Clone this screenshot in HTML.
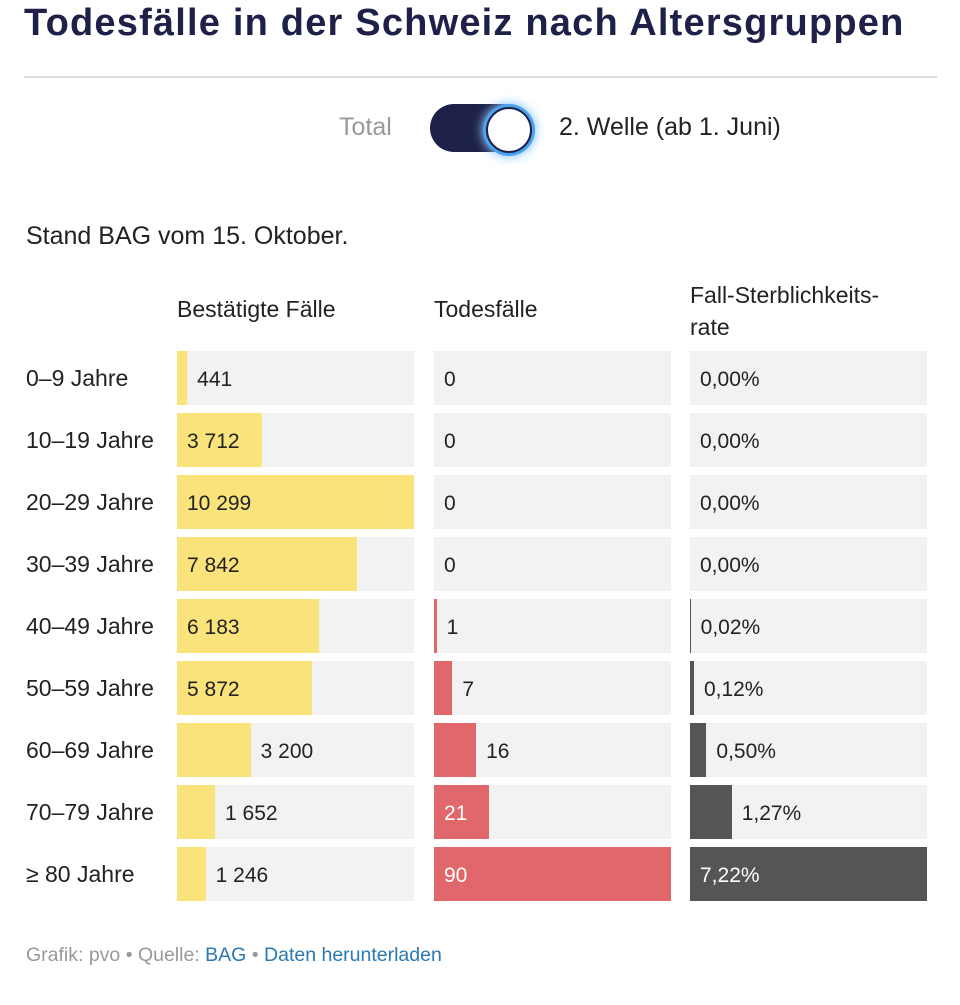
<!DOCTYPE html>
<html><head><meta charset="utf-8">
<style>
body{margin:0;background:#fff;width:960px;height:1005px;overflow:hidden;font-family:"Liberation Sans",sans-serif;color:#222;position:relative}
.abs{position:absolute}
#title{left:24px;top:2px;font-size:38px;font-weight:bold;color:#1e2147;white-space:nowrap;letter-spacing:1.2px}
#rule{left:24px;top:76px;width:913px;height:2px;background:#ddd}
.lbl{font-size:22px;white-space:nowrap}
.cell{position:absolute;height:54px;background:#f2f2f2}
.bar{position:absolute;left:0;top:0;height:54px}
.val{position:absolute;top:2px;line-height:54px;font-size:21px;white-space:nowrap}
</style></head><body>
<div class="abs" id="title">Todesfälle in der Schweiz nach Altersgruppen</div>
<div class="abs" id="rule"></div>
<div class="abs lbl" style="left:339px;top:113px;font-size:25px;color:#999">Total</div>
<div class="abs" style="left:430px;top:104px;width:96px;height:48px;border-radius:24px;background:#1e2147"></div>
<div class="abs" style="left:486px;top:107px;width:42px;height:42px;border-radius:50%;background:#fff;border:2px solid #1e2147;box-shadow:0 0 0 3px #4aa3ef,0 0 10px 4px #8cc8ff"></div>
<div class="abs lbl" style="left:559px;top:113px;font-size:25px;color:#222">2. Welle (ab 1. Juni)</div>
<div class="abs lbl" style="left:26px;top:222px;font-size:25px">Stand BAG vom 15. Oktober.</div>
<div class="abs lbl" style="left:177px;top:296px;font-size:23px">Bestätigte Fälle</div>
<div class="abs lbl" style="left:434px;top:296px;font-size:23px">Todesfälle</div>
<div class="abs lbl" style="left:690px;top:279px;line-height:32px;font-size:23px">Fall-Sterblichkeits-<br>rate</div>
<div id="rows"></div>
<div class="abs" style="left:26px;top:944px;font-size:19.5px;color:#999">Grafik: pvo • Quelle: <span style="color:#2a78b3">BAG</span> • <span style="color:#2a78b3">Daten herunterladen</span></div>
<script>
const categories=["0–9 Jahre","10–19 Jahre","20–29 Jahre","30–39 Jahre","40–49 Jahre","50–59 Jahre","60–69 Jahre","70–79 Jahre","≥ 80 Jahre"];
const cases=[441,3712,10299,7842,6183,5872,3200,1652,1246];
const deaths=[0,0,0,0,1,7,16,21,90];
const rates=[0.00,0.00,0.00,0.00,0.02,0.12,0.50,1.27,7.22];
const root=document.getElementById('rows');
const cols=[{x:177,data:cases,color:'#f9e37a',txt:'#222',fmt:v=>String(v).replace(/\B(?=(\d{3})+(?!\d))/g,' '),name:'cases'},
{x:434,data:deaths,color:'#e0686b',txt:'#fff',fmt:v=>String(v),name:'deaths'},
{x:690,data:rates,color:'#555',txt:'#fff',fmt:v=>v.toFixed(2).replace('.',',')+'%',name:'rate'}];
const W=237;
categories.forEach((c,i)=>{
 const y=351+i*62;
 const l=document.createElement('div');l.className='abs lbl';l.style.left='26px';l.style.top=(y+14)+'px';l.style.fontSize='23px';l.textContent=c;
 
 
 root.appendChild(l);
 cols.forEach(col=>{
  const max=Math.max(...col.data);
  const v=col.data[i];const bw=v/max*W;
  const cell=document.createElement('div');cell.className='cell';cell.style.left=col.x+'px';cell.style.top=y+'px';cell.style.width=W+'px';
  
  
  const b=document.createElement('div');b.className='bar';b.style.width=bw+'px';b.style.background=col.color;
  
  
  cell.appendChild(b);
  const t=col.fmt(v);const tw=t.length*11;
  const inside=bw>tw+30;
  const s=document.createElement('div');s.className='val';s.textContent=t;
  s.style.left=(inside?10:bw+10)+'px';s.style.color=inside?col.txt:'#222';
  
  
  cell.appendChild(s);
  root.appendChild(cell);
 });
});
</script>
</body></html>
